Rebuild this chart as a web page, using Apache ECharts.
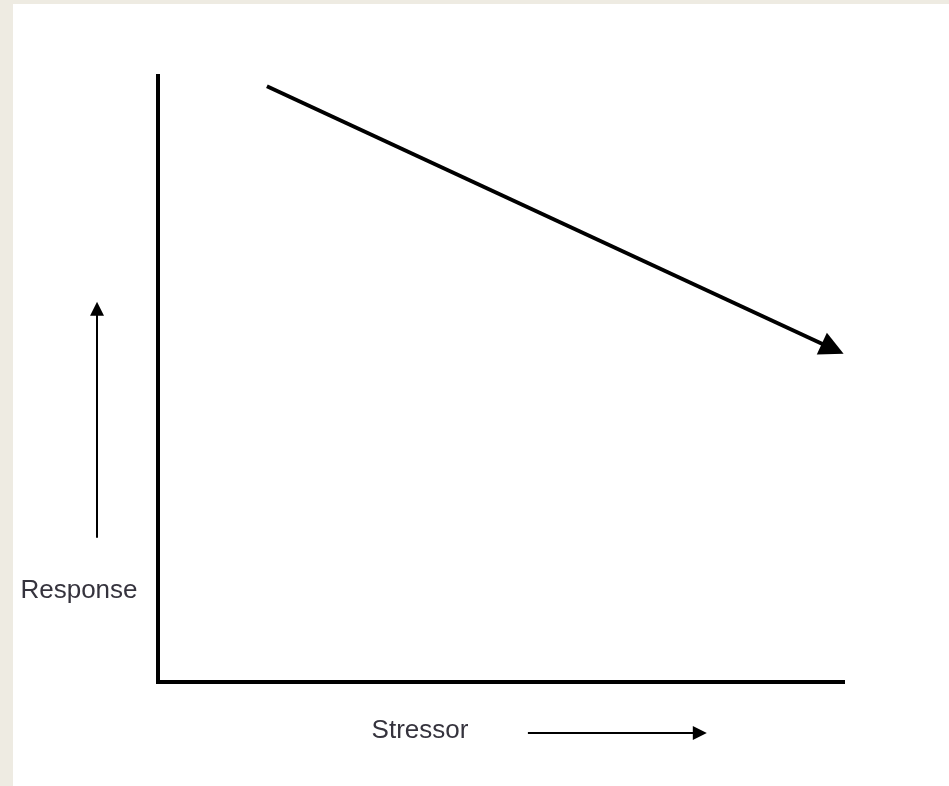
<!DOCTYPE html>
<html>
<head>
<meta charset="utf-8">
<title>Stressor / Response</title>
<script src="https://cdn.jsdelivr.net/npm/echarts@6/dist/echarts.min.js"></script>
<style>
    html, body{
        margin: 0;
        padding: 0;
        width: 949px;
        height: 786px;
        background: #eeebe2;
        overflow: hidden;
    }
    #chart-box{
        position: absolute;
        left: 13px;
        top: 4px;
        width: 936px;
        height: 782px;
        background: #fff;
    }
</style>
</head>
<body>
<div id="chart-box"></div>
<script>
// diagram coordinates, axes run 0..100
var axisRange = [0, 100];
// main trend: response falls as the stressor rises
var trendStart = [15.9, 98.3];
var trendEnd = [98.5, 55.0];
// small direction arrows next to the labels
var upArrow = [[-8.9, 23.8], [-8.9, 61.6]];
var rightArrow = [[54.0, -8.4], [79.1, -8.4]];
var labelY = 'Response';
var labelX = 'Stressor';

var font = '"Liberation Sans", Arial, sans-serif';

function hiddenAxis(){
    return {
        type: 'value',
        min: axisRange[0],
        max: axisRange[1],
        axisLine: {show: true, onZero: false, lineStyle: {color: '#000', width: 4, cap: 'square'}},
        axisTick: {show: false},
        axisLabel: {show: false},
        splitLine: {show: false}
    };
}

var option = {
    animation: false,
    backgroundColor: '#fff',
    grid: {left: 145, top: 72, right: 106, bottom: 104},
    xAxis: hiddenAxis(),
    yAxis: hiddenAxis(),
    graphic: [
        {
            type: 'text', x: 66, y: 587,
            style: {text: labelY, font: '26px ' + font, fill: '#35333d', align: 'center', verticalAlign: 'middle'}
        },
        {
            type: 'text', x: 407, y: 727,
            style: {text: labelX, font: '26px ' + font, fill: '#35333d', align: 'center', verticalAlign: 'middle'}
        }
    ],
    series: [
        {
            type: 'lines',
            coordinateSystem: 'cartesian2d',
            clip: false,
            symbol: ['none', 'triangle'],
            symbolSize: 24,
            lineStyle: {color: '#000', width: 4, opacity: 1},
            itemStyle: {color: '#000'},
            data: [{coords: [trendStart, trendEnd]}]
        },
        {
            type: 'lines',
            coordinateSystem: 'cartesian2d',
            clip: false,
            symbol: ['none', 'triangle'],
            symbolSize: 14,
            lineStyle: {color: '#000', width: 2, opacity: 1},
            itemStyle: {color: '#000'},
            data: [{coords: upArrow}, {coords: rightArrow}]
        }
    ]
};

var myChart = echarts.init(document.getElementById('chart-box'));
myChart.setOption(option);
</script>
</body>
</html>
